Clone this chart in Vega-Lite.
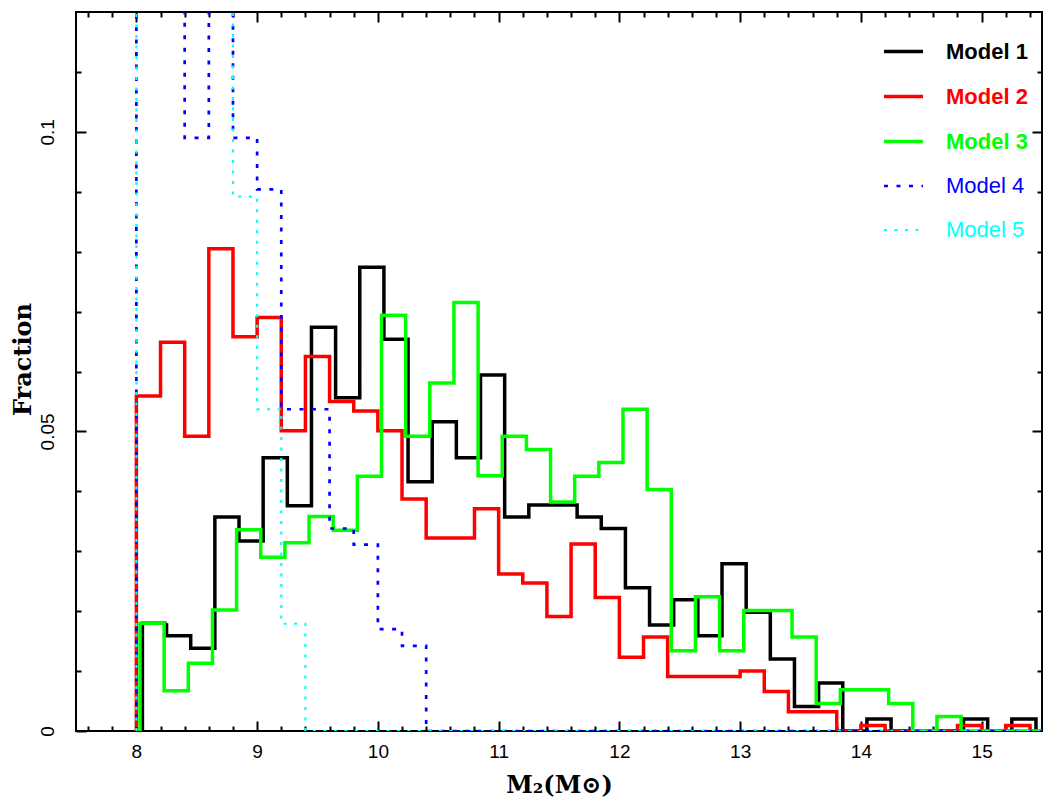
{
  "$schema": "https://vega.github.io/schema/vega-lite/v6.json",
  "width": 966,
  "height": 719,
  "autosize": "none",
  "padding": {"left": 76, "top": 12, "right": 19, "bottom": 78},
  "background": "white",
  "config": {
    "view": {"stroke": "black", "strokeWidth": 2},
    "axis": {
      "grid": false, "domain": false,
      "tickColor": "black", "tickWidth": 2,
      "labelColor": "black", "labelFont": "Liberation Sans", "labelFontSize": 19,
      "titleColor": "black"
    }
  },
  "data": {"values": [
    {"m": "Model 1", "x": 8.05, "y": 0},
    {"m": "Model 1", "x": 8.05, "y": 0.0180},
    {"m": "Model 1", "x": 8.25, "y": 0.0159},
    {"m": "Model 1", "x": 8.45, "y": 0.0138},
    {"m": "Model 1", "x": 8.65, "y": 0.0357},
    {"m": "Model 1", "x": 8.85, "y": 0.0317},
    {"m": "Model 1", "x": 9.05, "y": 0.0456},
    {"m": "Model 1", "x": 9.25, "y": 0.0376},
    {"m": "Model 1", "x": 9.45, "y": 0.0674},
    {"m": "Model 1", "x": 9.65, "y": 0.0556},
    {"m": "Model 1", "x": 9.85, "y": 0.0774},
    {"m": "Model 1", "x": 10.05, "y": 0.0654},
    {"m": "Model 1", "x": 10.25, "y": 0.0416},
    {"m": "Model 1", "x": 10.45, "y": 0.0516},
    {"m": "Model 1", "x": 10.65, "y": 0.0456},
    {"m": "Model 1", "x": 10.85, "y": 0.0594},
    {"m": "Model 1", "x": 11.05, "y": 0.0357},
    {"m": "Model 1", "x": 11.25, "y": 0.0377},
    {"m": "Model 1", "x": 11.45, "y": 0.0377},
    {"m": "Model 1", "x": 11.65, "y": 0.0357},
    {"m": "Model 1", "x": 11.85, "y": 0.0338},
    {"m": "Model 1", "x": 12.05, "y": 0.0239},
    {"m": "Model 1", "x": 12.25, "y": 0.0177},
    {"m": "Model 1", "x": 12.45, "y": 0.0219},
    {"m": "Model 1", "x": 12.65, "y": 0.0159},
    {"m": "Model 1", "x": 12.85, "y": 0.0279},
    {"m": "Model 1", "x": 13.05, "y": 0.0198},
    {"m": "Model 1", "x": 13.25, "y": 0.0120},
    {"m": "Model 1", "x": 13.45, "y": 0.0041},
    {"m": "Model 1", "x": 13.65, "y": 0.0080},
    {"m": "Model 1", "x": 13.85, "y": 0},
    {"m": "Model 1", "x": 14.05, "y": 0.0020},
    {"m": "Model 1", "x": 14.25, "y": 0},
    {"m": "Model 1", "x": 14.45, "y": 0},
    {"m": "Model 1", "x": 14.65, "y": 0},
    {"m": "Model 1", "x": 14.85, "y": 0.0020},
    {"m": "Model 1", "x": 15.05, "y": 0},
    {"m": "Model 1", "x": 15.25, "y": 0.0020},
    {"m": "Model 1", "x": 15.45, "y": 0},
    {"m": "Model 1", "x": 15.5, "y": 0},

    {"m": "Model 2", "x": 8.0, "y": 0},
    {"m": "Model 2", "x": 8.0, "y": 0.0559},
    {"m": "Model 2", "x": 8.2, "y": 0.0649},
    {"m": "Model 2", "x": 8.4, "y": 0.0492},
    {"m": "Model 2", "x": 8.6, "y": 0.0805},
    {"m": "Model 2", "x": 8.8, "y": 0.0658},
    {"m": "Model 2", "x": 9.0, "y": 0.0690},
    {"m": "Model 2", "x": 9.2, "y": 0.0501},
    {"m": "Model 2", "x": 9.4, "y": 0.0625},
    {"m": "Model 2", "x": 9.6, "y": 0.0550},
    {"m": "Model 2", "x": 9.8, "y": 0.0534},
    {"m": "Model 2", "x": 10.0, "y": 0.0501},
    {"m": "Model 2", "x": 10.2, "y": 0.0387},
    {"m": "Model 2", "x": 10.4, "y": 0.0322},
    {"m": "Model 2", "x": 10.6, "y": 0.0322},
    {"m": "Model 2", "x": 10.8, "y": 0.0371},
    {"m": "Model 2", "x": 11.0, "y": 0.0262},
    {"m": "Model 2", "x": 11.2, "y": 0.0247},
    {"m": "Model 2", "x": 11.4, "y": 0.0191},
    {"m": "Model 2", "x": 11.6, "y": 0.0312},
    {"m": "Model 2", "x": 11.8, "y": 0.0223},
    {"m": "Model 2", "x": 12.0, "y": 0.0123},
    {"m": "Model 2", "x": 12.2, "y": 0.0157},
    {"m": "Model 2", "x": 12.4, "y": 0.0091},
    {"m": "Model 2", "x": 12.6, "y": 0.0091},
    {"m": "Model 2", "x": 12.8, "y": 0.0091},
    {"m": "Model 2", "x": 13.0, "y": 0.0100},
    {"m": "Model 2", "x": 13.2, "y": 0.0066},
    {"m": "Model 2", "x": 13.4, "y": 0.0032},
    {"m": "Model 2", "x": 13.6, "y": 0.0032},
    {"m": "Model 2", "x": 13.8, "y": 0},
    {"m": "Model 2", "x": 14.0, "y": 0.0009},
    {"m": "Model 2", "x": 14.2, "y": 0},
    {"m": "Model 2", "x": 14.4, "y": 0},
    {"m": "Model 2", "x": 14.6, "y": 0},
    {"m": "Model 2", "x": 14.8, "y": 0.0009},
    {"m": "Model 2", "x": 15.0, "y": 0},
    {"m": "Model 2", "x": 15.2, "y": 0.0009},
    {"m": "Model 2", "x": 15.4, "y": 0},
    {"m": "Model 2", "x": 15.5, "y": 0},

    {"m": "Model 3", "x": 8.03, "y": 0},
    {"m": "Model 3", "x": 8.03, "y": 0.0180},
    {"m": "Model 3", "x": 8.23, "y": 0.0067},
    {"m": "Model 3", "x": 8.43, "y": 0.0113},
    {"m": "Model 3", "x": 8.63, "y": 0.0202},
    {"m": "Model 3", "x": 8.83, "y": 0.0336},
    {"m": "Model 3", "x": 9.03, "y": 0.0290},
    {"m": "Model 3", "x": 9.23, "y": 0.0314},
    {"m": "Model 3", "x": 9.43, "y": 0.0358},
    {"m": "Model 3", "x": 9.63, "y": 0.0335},
    {"m": "Model 3", "x": 9.83, "y": 0.0425},
    {"m": "Model 3", "x": 10.03, "y": 0.0694},
    {"m": "Model 3", "x": 10.23, "y": 0.0492},
    {"m": "Model 3", "x": 10.43, "y": 0.0581},
    {"m": "Model 3", "x": 10.63, "y": 0.0715},
    {"m": "Model 3", "x": 10.83, "y": 0.0426},
    {"m": "Model 3", "x": 11.03, "y": 0.0492},
    {"m": "Model 3", "x": 11.23, "y": 0.0470},
    {"m": "Model 3", "x": 11.43, "y": 0.0382},
    {"m": "Model 3", "x": 11.63, "y": 0.0425},
    {"m": "Model 3", "x": 11.83, "y": 0.0448},
    {"m": "Model 3", "x": 12.03, "y": 0.0537},
    {"m": "Model 3", "x": 12.23, "y": 0.0403},
    {"m": "Model 3", "x": 12.43, "y": 0.0134},
    {"m": "Model 3", "x": 12.63, "y": 0.0224},
    {"m": "Model 3", "x": 12.83, "y": 0.0134},
    {"m": "Model 3", "x": 13.03, "y": 0.0201},
    {"m": "Model 3", "x": 13.23, "y": 0.0201},
    {"m": "Model 3", "x": 13.43, "y": 0.0157},
    {"m": "Model 3", "x": 13.63, "y": 0.0046},
    {"m": "Model 3", "x": 13.83, "y": 0.0069},
    {"m": "Model 3", "x": 14.03, "y": 0.0069},
    {"m": "Model 3", "x": 14.23, "y": 0.0046},
    {"m": "Model 3", "x": 14.43, "y": 0},
    {"m": "Model 3", "x": 14.63, "y": 0.0024},
    {"m": "Model 3", "x": 14.83, "y": 0},
    {"m": "Model 3", "x": 15.03, "y": 0},
    {"m": "Model 3", "x": 15.23, "y": 0},
    {"m": "Model 3", "x": 15.5, "y": 0},

    {"m": "Model 4", "x": 8.0, "y": 0},
    {"m": "Model 4", "x": 8.0, "y": 0.15},
    {"m": "Model 4", "x": 8.2, "y": 0.15},
    {"m": "Model 4", "x": 8.4, "y": 0.0990},
    {"m": "Model 4", "x": 8.6, "y": 0.15},
    {"m": "Model 4", "x": 8.8, "y": 0.0990},
    {"m": "Model 4", "x": 9.0, "y": 0.0904},
    {"m": "Model 4", "x": 9.2, "y": 0.0537},
    {"m": "Model 4", "x": 9.4, "y": 0.0537},
    {"m": "Model 4", "x": 9.6, "y": 0.0338},
    {"m": "Model 4", "x": 9.8, "y": 0.0311},
    {"m": "Model 4", "x": 10.0, "y": 0.0170},
    {"m": "Model 4", "x": 10.2, "y": 0.0142},
    {"m": "Model 4", "x": 10.4, "y": 0},
    {"m": "Model 4", "x": 15.5, "y": 0},

    {"m": "Model 5", "x": 8.0, "y": 0},
    {"m": "Model 5", "x": 8.0, "y": 0.15},
    {"m": "Model 5", "x": 8.2, "y": 0.15},
    {"m": "Model 5", "x": 8.4, "y": 0.15},
    {"m": "Model 5", "x": 8.6, "y": 0.15},
    {"m": "Model 5", "x": 8.8, "y": 0.0892},
    {"m": "Model 5", "x": 9.0, "y": 0.0537},
    {"m": "Model 5", "x": 9.2, "y": 0.0179},
    {"m": "Model 5", "x": 9.4, "y": 0},
    {"m": "Model 5", "x": 15.5, "y": 0}
  ]},
  "layer": [
    {
      "mark": {"type": "line", "interpolate": "step-after", "clip": true},
      "encoding": {
        "x": {
          "field": "x", "type": "quantitative",
          "scale": {"domain": [7.5, 15.5], "nice": false, "zero": false},
          "axis": {
            "orient": "bottom", "values": [8, 9, 10, 11, 12, 13, 14, 15],
            "tickSize": -10, "labelPadding": 21,
            "title": "M₂(M⊙)", "titleFont": "DejaVu Serif", "titleFontWeight": "bold", "titleFontSize": 24,
            "titleX": 483, "titleY": 61, "titleBaseline": "alphabetic", "titleAlign": "center"
          }
        },
        "y": {
          "field": "y", "type": "quantitative",
          "scale": {"domain": [0, 0.12], "nice": false},
          "axis": {
            "orient": "left", "values": [0, 0.05, 0.1], "format": "~g",
            "tickSize": -10, "labelAngle": 270, "labelAlign": "center", "labelBaseline": "bottom", "labelPadding": 29,
            "title": "Fraction", "titleFont": "DejaVu Serif", "titleFontWeight": "bold", "titleFontSize": 24,
            "titleAngle": 270, "titleX": -46, "titleY": 347, "titleBaseline": "alphabetic", "titleAlign": "center"
          }
        },
        "color": {
          "field": "m", "type": "nominal",
          "scale": {"domain": ["Model 1", "Model 2", "Model 3", "Model 4", "Model 5"], "range": ["#000000", "#ff0000", "#00ff00", "#0000ff", "#00ffff"]},
          "legend": {
            "title": null, "orient": "none", "legendX": 806, "legendY": 18,
            "symbolType": "stroke", "symbolSize": 1521,
            "labelFont": "Liberation Sans", "labelFontSize": 22, "labelOffset": 21,
            "rowPadding": 12, "padding": 0,
            "encode": {"labels": {"update": {
              "fill": {"signal": "scale('color', datum.value)"},
              "fontWeight": {"signal": "indexof(['Model 1','Model 2','Model 3'], datum.value) >= 0 ? 'bold' : 'normal'"}
            }}}
          }
        },
        "strokeDash": {
          "field": "m", "type": "nominal",
          "scale": {"domain": ["Model 1", "Model 2", "Model 3", "Model 4", "Model 5"], "range": [[1, 0], [1, 0], [1, 0], [4, 8.5], [3, 7.5]]}
        },
        "strokeWidth": {
          "field": "m", "type": "nominal",
          "scale": {"type": "ordinal", "domain": ["Model 1", "Model 2", "Model 3", "Model 4", "Model 5"], "range": [3.5, 3.5, 3.5, 2.7, 2.2]}
        },
        "order": {"value": null}
      }
    },
    {
      "mark": {"type": "point", "opacity": 0},
      "encoding": {
        "x": {"field": "x", "type": "quantitative", "axis": {
          "orient": "bottom", "labels": false, "title": null, "tickSize": -5,
          "values": [7.6, 7.8, 8.2, 8.4, 8.6, 8.8, 9.2, 9.4, 9.6, 9.8, 10.2, 10.4, 10.6, 10.8, 11.2, 11.4, 11.6, 11.8, 12.2, 12.4, 12.6, 12.8, 13.2, 13.4, 13.6, 13.8, 14.2, 14.4, 14.6, 14.8, 15.2, 15.4]}},
        "y": {"field": "y", "type": "quantitative", "axis": {
          "orient": "left", "labels": false, "title": null, "tickSize": -5,
          "values": [0.01, 0.02, 0.03, 0.04, 0.06, 0.07, 0.08, 0.09, 0.11]}}
      }
    },
    {
      "mark": {"type": "point", "opacity": 0},
      "encoding": {
        "x": {"field": "x", "type": "quantitative", "axis": {
          "orient": "top", "labels": false, "title": null, "tickSize": -10,
          "values": [8, 9, 10, 11, 12, 13, 14, 15]}},
        "y": {"field": "y", "type": "quantitative", "axis": {
          "orient": "right", "labels": false, "title": null, "tickSize": -10,
          "values": [0.05, 0.1]}}
      }
    },
    {
      "mark": {"type": "point", "opacity": 0},
      "encoding": {
        "x": {"field": "x", "type": "quantitative", "axis": {
          "orient": "top", "labels": false, "title": null, "tickSize": -5,
          "values": [7.6, 7.8, 8.2, 8.4, 8.6, 8.8, 9.2, 9.4, 9.6, 9.8, 10.2, 10.4, 10.6, 10.8, 11.2, 11.4, 11.6, 11.8, 12.2, 12.4, 12.6, 12.8, 13.2, 13.4, 13.6, 13.8, 14.2, 14.4, 14.6, 14.8, 15.2, 15.4]}},
        "y": {"field": "y", "type": "quantitative", "axis": {
          "orient": "right", "labels": false, "title": null, "tickSize": -5,
          "values": [0.01, 0.02, 0.03, 0.04, 0.06, 0.07, 0.08, 0.09, 0.11]}}
      }
    }
  ],
  "resolve": {"axis": {"x": "independent", "y": "independent"}}
}
